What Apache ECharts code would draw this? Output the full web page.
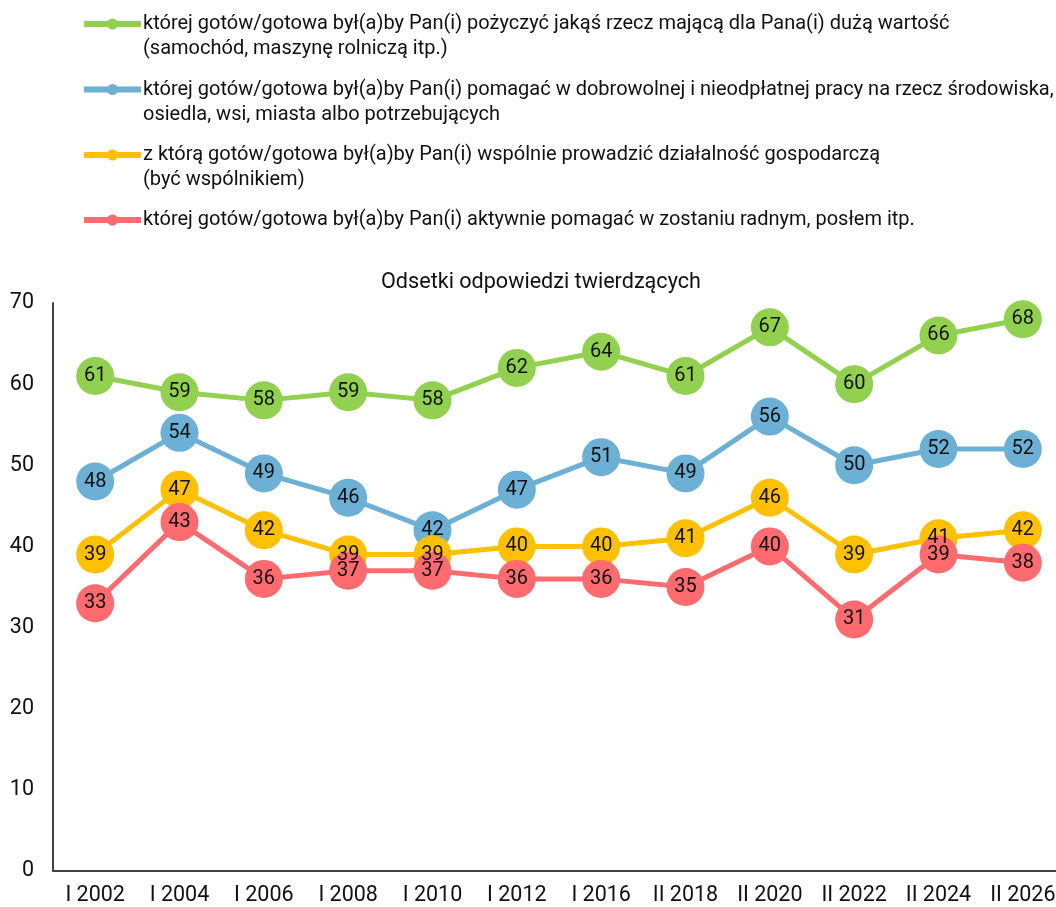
<!DOCTYPE html>
<html><head><meta charset="utf-8">
<script src="https://cdn.jsdelivr.net/npm/echarts@6/dist/echarts.min.js"></script>
<style>html,body{margin:0;padding:0;background:#fff}#c{width:1056px;height:907px}</style>
</head><body><div id="c"></div>
<script>
const categories = ['I 2002','I 2004','I 2006','I 2008','I 2010','I 2012','I 2016','II 2018','II 2020','II 2022','II 2024','II 2026'];
const seriesNames = [
  'której gotów/gotowa był(a)by Pan(i) pożyczyć jakąś rzecz mającą dla Pana(i) dużą wartość\n(samochód, maszynę rolniczą itp.)',
  'której gotów/gotowa był(a)by Pan(i) pomagać w dobrowolnej i nieodpłatnej pracy na rzecz środowiska,\nosiedla, wsi, miasta albo potrzebujących',
  'z którą gotów/gotowa był(a)by Pan(i) wspólnie prowadzić działalność gospodarczą\n(być wspólnikiem)',
  'której gotów/gotowa był(a)by Pan(i) aktywnie pomagać w zostaniu radnym, posłem itp.'
];
const lendValues = [61,59,58,59,58,62,64,61,67,60,66,68];
const helpValues = [48,54,49,46,42,47,51,49,56,50,52,52];
const businessValues = [39,47,42,39,39,40,40,41,46,39,41,42];
const councilValues = [33,43,36,37,37,36,36,35,40,31,39,38];
const colors = ['#92d050','#6db0d6','#ffc000','#ff6b6e'];
const yTicks = {min:0, max:70, interval:10};
const titleText = 'Odsetki odpowiedzi twierdzących';

const FONT = 'Roboto';
const allValues = [lendValues, helpValues, businessValues, councilValues];
const legendCenters = [24, 89.5, 155, 220];
const legends = seriesNames.map((n, i) => {
  const twoLine = n.indexOf('\n') >= 0;
  return {
    data: [{name: n}],
    orient: 'vertical',
    left: 81,
    top: legendCenters[i] - 12.5 - (twoLine ? 25 : 0),
    padding: 0,
    itemWidth: 57,
    itemHeight: 14,
    itemGap: 0,
    selectedMode: false,
    formatter: function (name) { return name.indexOf('\n') >= 0 ? '\n' + name : name; },
    lineStyle: {width: 6},
    textStyle: {fontFamily: FONT, fontSize: 20, color: '#111', lineHeight: 25, padding: [0,0,0,-3]}
  };
});
const series = seriesNames.map((n, i) => ({
  name: n,
  type: 'line',
  data: allValues[i],
  symbol: 'circle',
  symbolSize: 38,
  lineStyle: {width: 5, color: colors[i]},
  itemStyle: {color: colors[i]},
  label: {show: true, position: 'inside', fontFamily: FONT, fontSize: 20, color: '#111'},
  emphasis: {disabled: true},
  animation: false
}));
const chart = echarts.init(document.getElementById('c'), null, {renderer: 'canvas'});
chart.setOption({
  backgroundColor: '#fff',
  animation: false,
  title: {text: titleText, left: 381, top: 272, padding: 0,
    textStyle: {fontFamily: FONT, fontSize: 21.6, fontWeight: 'normal', color: '#111'}},
  legend: legends,
  grid: {left: 53, width: 1012, top: 303, height: 568, containLabel: false, outerBoundsMode: 'none'},
  xAxis: {
    type: 'category', data: categories, boundaryGap: true,
    axisLine: {lineStyle: {color: '#444', width: 2}},
    axisTick: {show: false},
    axisLabel: {fontFamily: FONT, fontSize: 21.5, color: '#111', margin: 14, interval: 0}
  },
  yAxis: {
    type: 'value', min: yTicks.min, max: yTicks.max, interval: yTicks.interval,
    axisLine: {show: true, lineStyle: {color: '#444', width: 2}},
    axisTick: {show: false},
    splitLine: {show: false},
    axisLabel: {fontFamily: FONT, fontSize: 21.5, color: '#111', margin: 19}
  },
  series: series
});
</script></body></html>
